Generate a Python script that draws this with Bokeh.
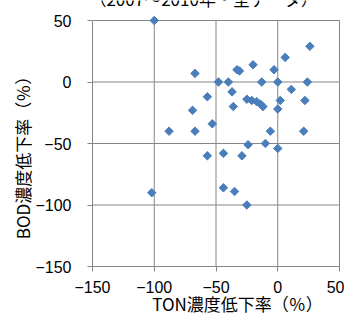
import numpy as np
from bokeh.plotting import figure
from bokeh.models import Range1d, FixedTicker, ColumnDataSource, Label, LinearAxis
from bokeh.embed import file_html
from bokeh.resources import INLINE

# TON vs BOD removal rates (%), 2007-2010
ton_reduction = [-100, -67, -48, -40, -37, -33, -31, -20, -3, 6, 26, -13, 0, 24, 11,
                 -57, -25, -21, -17, -14, -12, 2, 22, -36, 0, -69, -53, -88, -67, -6,
                 21, -57, -44, -29, -24, -10, 0, -44, -35, -25, -102]
bod_reduction = [50, 7, 0, 0, -8, 10, 9, 14, 10, 20, 29, 0, 0, 0, -6,
                 -12, -14, -15, -16, -18, -20, -15, -15, -20, -22, -23, -34, -40, -40, -40,
                 -40, -60, -58, -60, -51, -50, -54, -86, -89, -100, -90]

ticks = [-150, -100, -50, 0, 50]
tick_labels = {t: (str(t).replace("-", "\u2212")) for t in ticks}
axis_min, axis_max = -150, 50

title_text = "（2007～2010年・全データ）"
x_title = "TON濃度低下率（％）"
y_title = "BOD濃度低下率（％）"

grid_color = "#868686"
marker_color = "#4A7EBB"
jp_font = "Noto Sans CJK JP"
num_font = "Liberation Sans"

# The frame fills the canvas; the ranges are padded so that the
# -150..50 square sits where the axes should be.
W, H = 344, 320
px_x = 247 / 200.0
px_y = 246 / 200.0
x_lo = axis_min - 92 / px_x
x_hi = axis_min + (W - 92) / px_x
y_hi = axis_max + 20 / px_y
y_lo = axis_max - (H - 20) / px_y

p = figure(width=W, height=H, output_backend="svg", toolbar_location=None,
           x_range=Range1d(x_lo, x_hi), y_range=Range1d(y_lo, y_hi),
           x_axis_type=None, y_axis_type=None, min_border=0)
p.title.visible = False
p.outline_line_color = None
p.background_fill_color = "white"
p.border_fill_color = "white"

# grid lines, limited to the axis square
zeros_lo = [axis_min] * len(ticks)
zeros_hi = [axis_max] * len(ticks)
p.segment(x0=ticks, y0=zeros_lo, x1=ticks, y1=zeros_hi, line_color=grid_color, line_width=1)
p.segment(x0=zeros_lo, y0=ticks, x1=zeros_hi, y1=ticks, line_color=grid_color, line_width=1)

xaxis = LinearAxis(fixed_location=axis_min, bounds=(axis_min, axis_max))
yaxis = LinearAxis(fixed_location=axis_min, bounds=(axis_min, axis_max))
for ax in (xaxis, yaxis):
    ax.ticker = FixedTicker(ticks=ticks)
    ax.major_label_overrides = tick_labels
    ax.axis_line_color = grid_color
    ax.major_tick_line_color = grid_color
    ax.major_tick_out = 5
    ax.major_tick_in = 0
    ax.minor_tick_line_color = None
    ax.major_label_text_font = num_font
    ax.major_label_text_font_size = "16px"
    ax.major_label_text_color = "black"
xaxis.major_label_standoff = 9
yaxis.major_label_standoff = 16
p.add_layout(xaxis, "below")
p.add_layout(yaxis, "left")

src = ColumnDataSource(dict(x=ton_reduction, y=bod_reduction))
p.scatter("x", "y", source=src, marker="square", angle=np.pi / 4, size=6,
          fill_color=marker_color, line_color=marker_color)

# chart title, running off the top edge of the canvas
p.add_layout(Label(x=-60, y=67.9, text=title_text, text_align="center",
                   text_baseline="alphabetic", text_font=jp_font,
                   text_font_size="17px", text_color="black"))
p.add_layout(Label(x=-32.6, y=-180.1, text=x_title, text_align="center",
                   text_baseline="middle", text_font=jp_font,
                   text_font_size="17px", text_color="black"))
p.add_layout(Label(x=-206.7, y=-58.1, text=y_title, text_align="center",
                   text_baseline="middle", angle=np.pi / 2, text_font=jp_font,
                   text_font_size="17px", text_color="black"))

open("out.html", "w").write(file_html(p, INLINE))
